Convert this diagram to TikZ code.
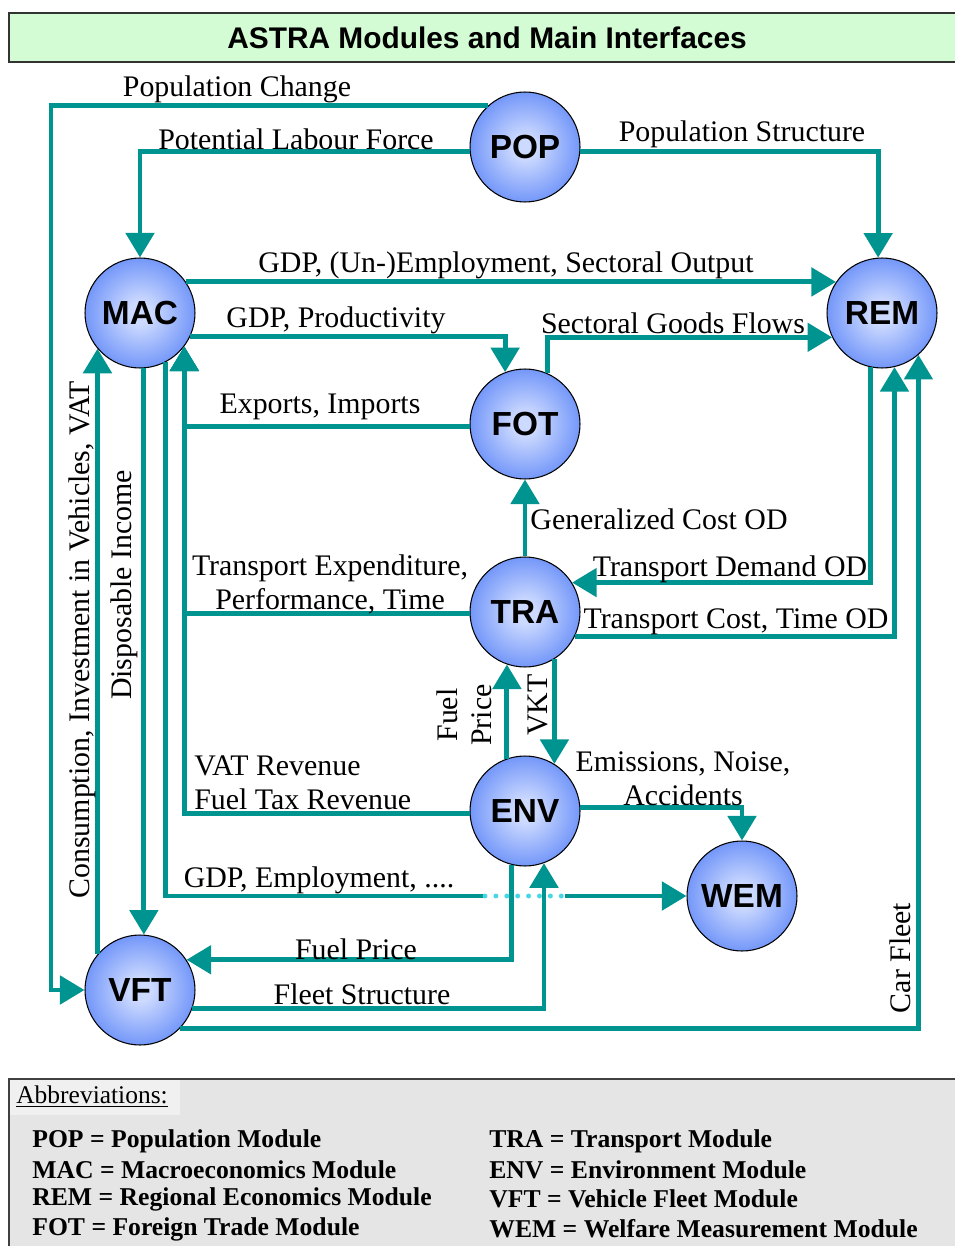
\documentclass[tikz,border=0pt]{standalone}
\usepackage{fontspec}
\setmainfont{Liberation Serif}
\newfontfamily\modfont{Liberation Sans}
\usetikzlibrary{arrows.meta}

\definecolor{teal1}{RGB}{0,148,144}
\definecolor{dotcyan}{RGB}{70,216,226}
\definecolor{titlegreen}{RGB}{212,252,212}
\definecolor{ballin}{RGB}{205,218,255}
\definecolor{ballout}{RGB}{58,108,245}
\definecolor{abbrgray}{RGB}{229,229,229}
\definecolor{abbrlight}{RGB}{240,240,240}

\pgfdeclareradialshading{ball}{\pgfpoint{0bp}{0bp}}{color(0bp)=(ballin); color(5bp)=(ballin); color(38bp)=(ballout); color(50bp)=(ballout)}

\begin{document}
\begin{tikzpicture}[x=0.02cm, y=-0.02cm,
  module/.style={draw=black, line width=0.6pt, circle, minimum size=2.2cm, inner sep=0pt,
    shade, shading=ball, font=\modfont\bfseries\fontsize{19}{22}\selectfont},
  link/.style={draw=teal1, line width=2.8pt},
  flow/.style={link, -{Triangle[width=16pt,length=14pt]}},
  lbl/.style={font=\fontsize{17}{19.3}\selectfont, inner sep=0pt, align=center},
  abbr/.style={font=\bfseries\fontsize{14.6}{17}\selectfont, inner sep=0pt, anchor=west}]

% 画布范围
\useasboundingbox (0,0) rectangle (954,1246);

% 标题
\node[draw=black!80, line width=1.2pt, fill=titlegreen, minimum width=19.12cm, minimum height=0.98cm,
  font=\modfont\bfseries\fontsize{17}{20}\selectfont] (title) at (487,37.5) {ASTRA Modules and Main Interfaces};

% 定义模块
\node[module] (POP) at (525,147) {POP};
\node[module] (MAC) at (140,313) {MAC};
\node[module] (REM) at (882,313) {REM};
\node[module] (FOT) at (525,424) {FOT};
\node[module] (TRA) at (525,612) {TRA};
\node[module] (ENV) at (525,811) {ENV};
\node[module] (WEM) at (742,896) {WEM};
\node[module] (VFT) at (140,990) {VFT};

% 连接模块
\draw[flow] (POP.132) -| (51,990) -- (VFT.west);
\draw[flow] (POP.185) -| (MAC.north);
\draw[flow] (POP.355) -| (REM.94);
\draw[flow] (MAC.34) -- (REM.146);
\draw[flow] (MAC.335) -| (FOT.111);
\draw[flow] (FOT.66) |- (REM.206);
\draw[flow] (FOT.183) -| (MAC.323);
\draw[flow] (TRA.182) -| (MAC.323);
\draw[flow] (ENV.183) -| (MAC.323);
\draw[flow] (TRA.north) -- (FOT.south);
\draw[flow] (REM.258) |- (TRA.32);
\draw[flow] (TRA.334) -| (REM.283);
\draw[flow] (VFT.316) -| (REM.311);
\draw[flow] (VFT.140) -- (MAC.220);
\draw[flow] (MAC.274) -- (VFT.86);
\draw[flow] (ENV.109) -- (TRA.251);
\draw[flow] (TRA.302) -- (ENV.58);
\draw[flow] (ENV.4) -| (WEM.north);
\draw[flow] (ENV.256) |- (VFT.33);
\draw[flow] (VFT.341) -| (ENV.290);

% GDP -> WEM, 中间一段为点线
\coordinate (dotA) at (485,896);
\coordinate (dotB) at (565,896);
\draw[link] (MAC.297) |- (dotA);
\draw[dotcyan, line width=2.8pt, line cap=round, dash pattern=on 0pt off 6.2pt] (dotA) -- (dotB);
\draw[flow] (dotB) -- (WEM.west);

% 标注
\node[lbl] (tPopChange) at (237,89) {Population Change};
\node[lbl] (tLabour) at (296,139) {Potential Labour Force};
\node[lbl] (tPopStruct) at (742,134) {Population Structure};
\node[lbl] (tOutput) at (506,265) {GDP, (Un-)Employment, Sectoral Output};
\node[lbl] (tProd) at (336,320) {GDP, Productivity};
\node[lbl] (tGoods) at (673,323) {Sectoral Goods Flows};
\node[lbl] (tExport) at (320,407) {Exports, Imports};
\node[lbl] (tExpend) at (330,584) {Transport Expenditure,\\Performance, Time};
\node[lbl] (tGenCost) at (659,519) {Generalized Cost OD};
\node[lbl] (tDemand) at (730,569) {Transport Demand OD};
\node[lbl] (tCost) at (736,622) {Transport Cost, Time OD};
\node[lbl, align=left, anchor=west] (tRevenue) at (194,783) {VAT Revenue\\Fuel Tax Revenue};
\node[lbl] (tGDPEmp) at (319,880) {GDP, Employment, ....};
\node[lbl] (tFuelH) at (356,949) {Fuel Price};
\node[lbl] (tFleet) at (362,994) {Fleet Structure};
\node[lbl] (tEmis) at (683,779) {Emissions, Noise,\\Accidents};
\node[lbl, rotate=90] (tFuelV) at (464,715) {Fuel\\Price};
\node[lbl, rotate=90] (tVKT) at (538,705) {VKT};
\node[lbl, rotate=90] (tConsum) at (82,640) {Consumption, Investment in Vehicles, VAT};
\node[lbl, rotate=90] (tDispo) at (124,585) {Disposable Income};
\node[lbl, rotate=90] (tCarFleet) at (900,958) {Car Fleet};

% 缩写说明
\fill[abbrgray] (9,1079) rectangle (965,1260);
\fill[abbrlight] (9,1079) rectangle (180,1115);
\draw[black!75, line width=1.2pt] (9,1260) -- (9,1079) -- (965,1079);
\node[font=\fontsize{14.5}{17}\selectfont, inner sep=0pt, anchor=west] (tAbbr) at (16,1097) {\underline{Abbreviations:}};
\node[abbr] (aPOP) at (32,1141) {POP = Population Module};
\node[abbr] (aMAC) at (32,1170) {MAC = Macroeconomics Module};
\node[abbr] (aREM) at (32,1199) {REM = Regional Economics Module};
\node[abbr] (aFOT) at (32,1229) {FOT = Foreign Trade Module};
\node[abbr] (aTRA) at (489,1141) {TRA = Transport Module};
\node[abbr] (aENV) at (489,1170) {ENV = Environment Module};
\node[abbr] (aVFT) at (489,1199) {VFT = Vehicle Fleet Module};
\node[abbr] (aWEM) at (489,1229) {WEM = Welfare Measurement Module};

\end{tikzpicture}
\end{document}
